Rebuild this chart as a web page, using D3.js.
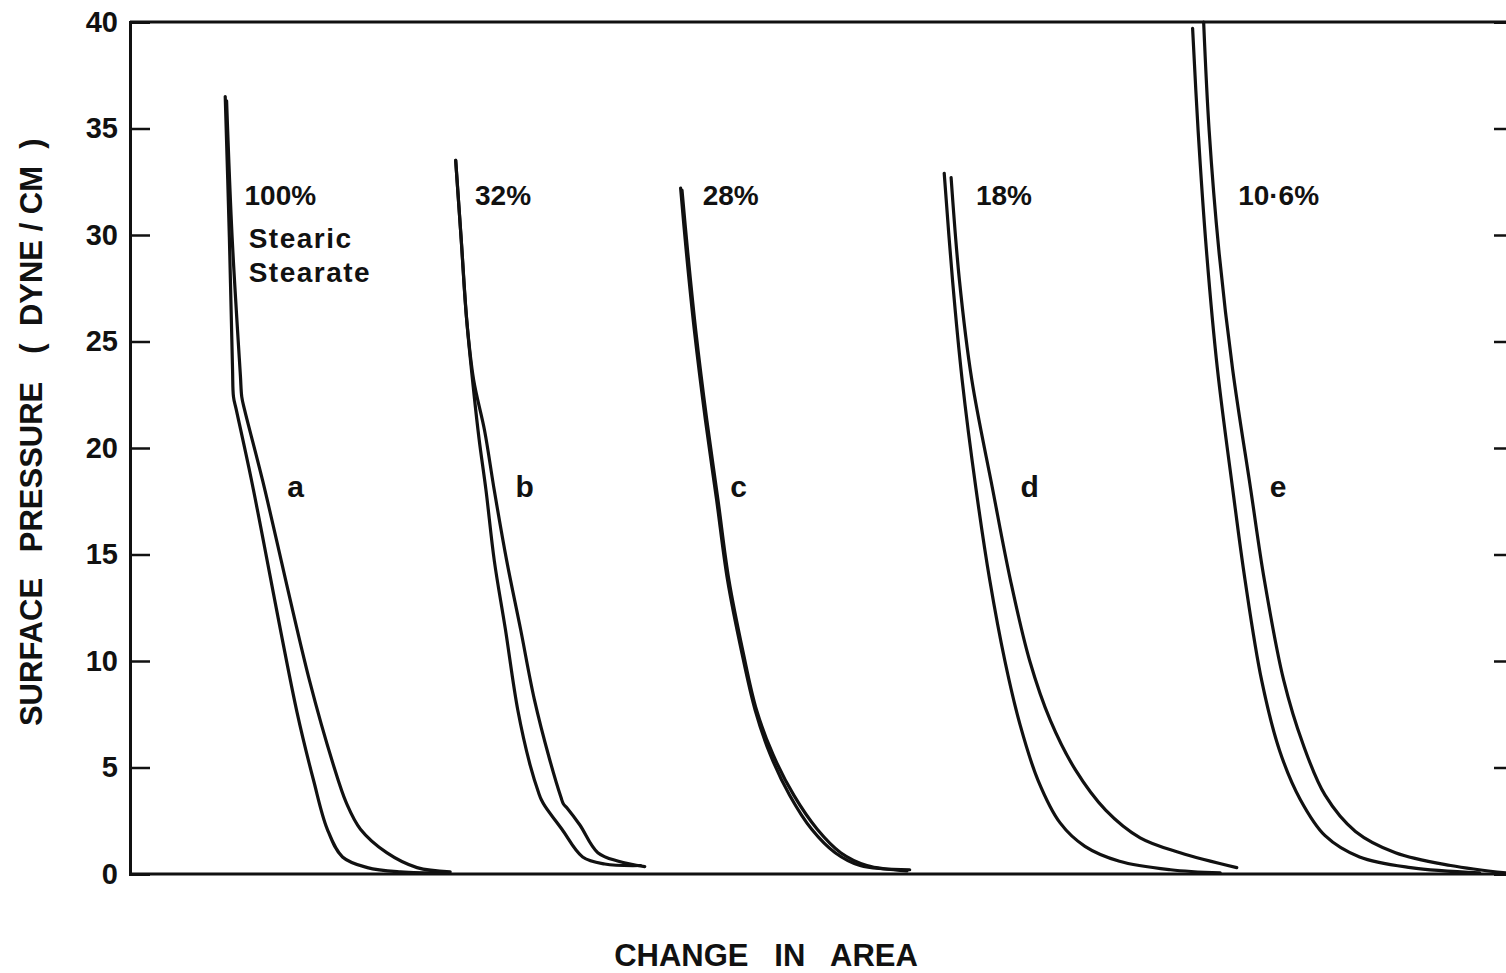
<!DOCTYPE html>
<html>
<head>
<meta charset="utf-8">
<script src="https://d3js.org/d3.v7.min.js"></script>
<style>
  body { margin: 0; background: #fff; }
  svg text { font-family: "Liberation Sans", Arial, sans-serif; font-weight: bold; fill: #111; white-space: pre; }
</style>
</head>
<body>
<div id="chart"></div>
<script>
var svgWidth = 1506;
var svgHeight = 973;

var margin = { top: 22, right: -4, bottom: 99, left: 130 };
var width = svgWidth - margin.left - margin.right;
var height = svgHeight - margin.top - margin.bottom;

// isotherm data: [change in area (arbitrary), surface pressure (dyne/cm)]
var curveA1 = [[6.9,36.5],[7.2,29.9],[7.43,23.7],[7.5,22.4],[7.7,21.8],[8.8,18.5],[12.1,7.6],[13.3,4.4],[14.3,2.1],[15.4,0.8],[17.2,0.3],[19.6,0.1],[23.0,0.05]];
var curveA2 = [[7.0,36.3],[7.4,29.9],[8.0,23.4],[8.1,22.4],[8.3,21.8],[9.6,18.5],[13.0,9.1],[14.7,5.2],[15.7,3.3],[16.7,2.1],[18.6,1.0],[20.8,0.3],[23.2,0.1]];
var curveB1 = [[23.6,33.5],[24.0,29.8],[24.4,26.0],[24.9,22.7],[25.3,20.4],[25.8,18.0],[26.4,14.7],[27.2,11.5],[28.1,7.7],[29.0,5.1],[29.64,3.76],[29.8,3.5],[30.07,3.19],[31.3,2.1],[32.8,0.8],[34.4,0.47],[37.0,0.4]];
var curveB2 = [[23.6,33.5],[24.0,29.8],[24.4,26.0],[24.9,23.2],[25.7,20.8],[26.4,18.0],[27.3,14.7],[28.3,11.5],[29.3,8.2],[30.4,5.4],[31.23,3.6],[31.4,3.3],[31.67,3.1],[32.6,2.3],[33.9,1.0],[35.4,0.6],[37.3,0.35]];
var curveC1 = [[39.9,32.2],[40.3,29.3],[40.9,25.5],[41.7,21.3],[42.5,17.6],[43.3,13.8],[44.3,10.5],[45.3,7.7],[46.4,5.6],[47.8,3.7],[49.4,2.1],[51.1,1.0],[52.9,0.4],[56.5,0.2]];
var curveC2 = [[40.0,32.1],[40.4,29.3],[41.0,25.5],[41.8,21.3],[42.6,17.6],[43.4,13.8],[44.4,10.5],[45.4,7.7],[46.6,5.6],[48.1,3.7],[49.8,2.1],[51.5,1.0],[53.4,0.4],[56.3,0.15]];
var curveD1 = [[59.0,32.9],[59.6,27.9],[60.3,23.2],[61.3,18.1],[62.3,13.8],[63.4,10.0],[64.5,7.0],[65.8,4.4],[67.4,2.4],[69.2,1.3],[71.7,0.6],[75.4,0.2],[79.0,0.05]];
var curveD2 = [[59.5,32.7],[60.1,27.9],[61.0,23.2],[62.5,18.1],[63.8,13.8],[65.2,10.0],[66.7,7.2],[68.5,4.9],[70.7,3.0],[73.2,1.7],[76.1,1.0],[80.2,0.3]];
var curveE1 = [[77.0,39.7],[77.4,34.9],[78.0,29.3],[78.8,23.7],[79.9,18.1],[80.8,13.8],[82.0,9.1],[83.3,5.8],[84.8,3.5],[86.6,1.8],[89.1,0.8],[92.8,0.3],[97.8,0.05]];
var curveE2 = [[77.8,40.0],[78.2,34.9],[78.9,29.3],[79.9,23.7],[81.2,18.1],[82.2,13.8],[83.6,9.1],[85.0,6.1],[86.6,3.7],[88.8,2.0],[91.7,1.0],[95.7,0.4],[99.7,0.05]];

var allCurves = [curveA1, curveA2, curveB1, curveB2, curveC1, curveC2, curveD1, curveD2, curveE1, curveE2];

// annotations next to each pair of curves
var pctLabels = ["100%", "32%", "28%", "18%", "10\u00b76%"];
var pctX = [8.3, 25.0, 41.5, 61.3, 80.3];
var pctY = 31.4;
var letterLabels = ["a", "b", "c", "d", "e"];
var letterX = [12.0, 28.6, 44.1, 65.2, 83.2];
var letterY = 17.7;

var yTicks = [0, 5, 10, 15, 20, 25, 30, 35, 40];

var svg = d3.select("#chart")
  .append("svg")
  .attr("width", svgWidth)
  .attr("height", svgHeight);

var chartGroup = svg.append("g")
  .attr("transform", `translate(${margin.left}, ${margin.top})`);

var xScale = d3.scaleLinear().domain([0, 100]).range([0, width]);
var yScale = d3.scaleLinear().domain([0, 40]).range([height, 0]);

// frame: top line
chartGroup.append("line")
  .attr("x1", 0).attr("x2", width)
  .attr("y1", 0).attr("y2", 0)
  .attr("stroke", "#111").attr("stroke-width", 3);

// bottom axis (no ticks)
chartGroup.append("line")
  .attr("x1", 0).attr("x2", width)
  .attr("y1", height).attr("y2", height)
  .attr("stroke", "#111").attr("stroke-width", 3);

// left axis with inward ticks
var leftAxis = d3.axisLeft(yScale)
  .tickValues(yTicks)
  .tickSize(-20)
  .tickPadding(12)
  .tickFormat(d3.format("d"));

var yAxis = chartGroup.append("g").call(leftAxis);
yAxis.select(".domain").attr("stroke", "#111").attr("stroke-width", 3);
yAxis.selectAll(".tick line").attr("stroke", "#111").attr("stroke-width", 2.5);
yAxis.selectAll(".tick text")
  .style("font-size", "29px")
  .style("font-family", "Liberation Sans, Arial, sans-serif")
  .style("font-weight", "bold")
  .attr("fill", "#111");
yAxis.selectAll(".tick").filter(d => d === 0 || d === 40).select("line").remove();

// right axis, ticks only
var rightAxis = d3.axisRight(yScale)
  .tickValues(yTicks.filter(d => d > 0 && d < 40))
  .tickSize(-16)
  .tickFormat("");

var yAxisRight = chartGroup.append("g")
  .attr("transform", `translate(${width}, 0)`)
  .call(rightAxis);
yAxisRight.select(".domain").attr("stroke", "#111").attr("stroke-width", 3);
yAxisRight.selectAll(".tick line").attr("stroke", "#111").attr("stroke-width", 2.5);

// curves
var line = d3.line()
  .x(d => xScale(d[0]))
  .y(d => yScale(d[1]))
  .curve(d3.curveCatmullRom.alpha(0.5));

chartGroup.selectAll(".iso")
  .data(allCurves)
  .enter()
  .append("path")
  .classed("iso", true)
  .attr("d", line)
  .attr("fill", "none")
  .attr("stroke", "#111")
  .attr("stroke-width", 3.2)
  .attr("stroke-linejoin", "round")
  .attr("stroke-linecap", "round");

// percentage labels
chartGroup.selectAll(".pct")
  .data(pctLabels)
  .enter()
  .append("text")
  .classed("pct", true)
  .attr("x", (d, i) => xScale(pctX[i]))
  .attr("y", yScale(pctY))
  .style("font-size", "28px")
  .text(d => d);

chartGroup.append("text")
  .attr("x", xScale(8.6))
  .attr("y", yScale(29.4))
  .style("font-size", "28px")
  .style("letter-spacing", "1.5px")
  .text("Stearic");

chartGroup.append("text")
  .attr("x", xScale(8.6))
  .attr("y", yScale(27.8))
  .style("font-size", "28px")
  .style("letter-spacing", "1.5px")
  .text("Stearate");

// curve letters
chartGroup.selectAll(".letter")
  .data(letterLabels)
  .enter()
  .append("text")
  .classed("letter", true)
  .attr("x", (d, i) => xScale(letterX[i]))
  .attr("y", yScale(letterY))
  .attr("text-anchor", "middle")
  .style("font-size", "30px")
  .text(d => d);

// y axis title, in three word groups
var yTitleWords = ["SURFACE", "PRESSURE", "(  DYNE / CM  )"];
var yTitleCenters = [652, 467, 246];
svg.selectAll(".ytitle")
  .data(yTitleWords)
  .enter()
  .append("text")
  .classed("ytitle", true)
  .attr("transform", (d, i) => `translate(42, ${yTitleCenters[i]}) rotate(-90)`)
  .attr("text-anchor", "middle")
  .style("font-size", "31px")
  .text(d => d);

svg.append("text")
  .attr("x", 766)
  .attr("y", 966)
  .attr("text-anchor", "middle")
  .style("font-size", "31px")
  .text("CHANGE   IN   AREA");
</script>
</body>
</html>
